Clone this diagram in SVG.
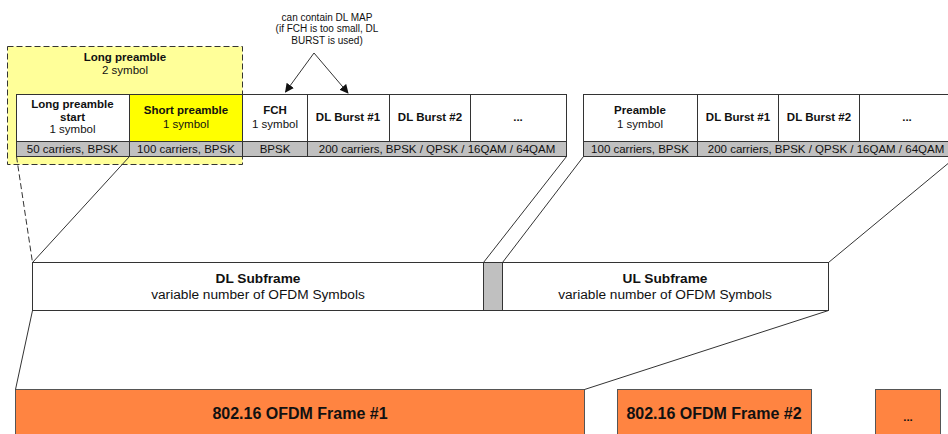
<svg xmlns="http://www.w3.org/2000/svg" width="948" height="434" viewBox="0 0 948 434">
<defs>
<marker id="ah" viewBox="0 0 10 10" refX="9" refY="5" markerWidth="9" markerHeight="9" markerUnits="userSpaceOnUse" orient="auto">
<path d="M0,0 L10,5 L0,10 z" fill="#111"/>
</marker>
<style>
text{font-family:"Liberation Sans",Arial,sans-serif;fill:#111;text-anchor:middle}
.b{font-weight:bold;font-size:11.5px}
.r{font-size:11.5px}
.s{font-size:10px}
.m{font-size:13.7px}
.mb{font-size:13.7px;font-weight:bold}
.f{font-size:16px;font-weight:bold}
.cell{fill:#fff;stroke:#333;stroke-width:1}
.gray{fill:#c0c0c0;stroke:#333;stroke-width:1}
.dash{fill:none;stroke:#333;stroke-width:1;stroke-dasharray:6,3}
.ln{fill:none;stroke:#333;stroke-width:1}
.frame{fill:#ff8441;stroke:#555;stroke-width:1}
</style>
</defs>
<rect width="948" height="434" fill="#fff"/>

<g id="long-preamble">
<rect x="7.5" y="46.5" width="235" height="118" fill="#ffff99" stroke="#333" stroke-dasharray="6,3"/>
<text class="b" x="125" y="61">Long preamble</text>
<text class="r" x="125" y="74">2 symbol</text>
</g>

<g id="dl-row">
<rect class="cell" x="16.5" y="94.5" width="113" height="47" stroke="none"/>
<path class="dash" d="M16.5,156.5 V94.5 H129.5"/>
<text class="b" x="72.5" y="108">Long preamble</text>
<text class="b" x="72.5" y="121">start</text>
<text class="r" x="72.5" y="133">1 symbol</text>
<rect x="129.5" y="94.5" width="113" height="47" fill="#ffff00" stroke="#333"/>
<text class="b" x="186" y="114">Short preamble</text>
<text class="r" x="186" y="128">1 symbol</text>
<rect class="cell" x="242.5" y="94.5" width="65" height="47"/>
<text class="b" x="275" y="114">FCH</text>
<text class="r" x="275" y="128">1 symbol</text>
<rect class="cell" x="307.5" y="94.5" width="82" height="47"/>
<text class="b" x="348" y="121">DL Burst #1</text>
<rect class="cell" x="389.5" y="94.5" width="81" height="47"/>
<text class="b" x="430" y="121">DL Burst #2</text>
<rect class="cell" x="470.5" y="94.5" width="96" height="47"/>
<text class="b" x="518" y="121">...</text>
<rect class="gray" x="16.5" y="141.5" width="113" height="15" stroke="none"/>
<path class="ln" d="M16.5,156.5 H129.5 V141.5 H16.5"/>
<text class="r" x="72.5" y="153">50 carriers, BPSK</text>
<rect class="gray" x="129.5" y="141.5" width="113" height="15"/>
<text class="r" x="186" y="153">100 carriers, BPSK</text>
<rect class="gray" x="242.5" y="141.5" width="65" height="15"/>
<text class="r" x="275" y="153">BPSK</text>
<rect class="gray" x="307.5" y="141.5" width="259" height="15"/>
<text class="r" x="437" y="153">200 carriers, BPSK / QPSK / 16QAM / 64QAM</text>
</g>

<g id="ul-row">
<rect class="cell" x="583.5" y="94.5" width="114" height="47"/>
<text class="b" x="640" y="114">Preamble</text>
<text class="r" x="640" y="128">1 symbol</text>
<rect class="cell" x="697.5" y="94.5" width="81" height="47"/>
<text class="b" x="738" y="121">DL Burst #1</text>
<rect class="cell" x="778.5" y="94.5" width="81" height="47"/>
<text class="b" x="819" y="121">DL Burst #2</text>
<rect class="cell" x="859.5" y="94.5" width="97" height="47"/>
<text class="b" x="907" y="121">...</text>
<rect class="gray" x="583.5" y="141.5" width="114" height="15"/>
<text class="r" x="640" y="153">100 carriers, BPSK</text>
<rect class="gray" x="697.5" y="141.5" width="259" height="15"/>
<text class="r" x="826" y="153">200 carriers, BPSK / QPSK / 16QAM / 64QAM</text>
</g>

<g id="note">
<text class="s" x="327" y="20.5">can contain DL MAP</text>
<text class="s" x="327" y="32">(if FCH is too small, DL</text>
<text class="s" x="327" y="43.5">BURST is used)</text>
</g>

<g id="subframes">
<rect class="cell" x="32.5" y="262.5" width="451" height="48"/>
<text class="mb" x="258" y="283">DL Subframe</text>
<text class="m" x="258" y="299">variable number of OFDM Symbols</text>
<rect class="gray" x="483.5" y="262.5" width="19" height="48"/>
<rect class="cell" x="502.5" y="262.5" width="326" height="48"/>
<text class="mb" x="665" y="283">UL Subframe</text>
<text class="m" x="665" y="299">variable number of OFDM Symbols</text>
</g>

<g id="frames">
<rect class="frame" x="15.5" y="389.5" width="569" height="50"/>
<text class="f" x="300" y="419">802.16 OFDM Frame #1</text>
<rect class="frame" x="617.5" y="389.5" width="194" height="50"/>
<text class="f" x="714" y="419">802.16 OFDM Frame #2</text>
<rect class="frame" x="875.5" y="389.5" width="65" height="50"/>
<text class="b" x="908" y="421">...</text>
</g>

<g id="connectors">
<path class="ln" d="M314,53 L285.5,92" marker-end="url(#ah)"/>
<path class="ln" d="M314,53 L348,93" marker-end="url(#ah)"/>
<path class="dash" d="M16.5,156.5 L32.5,262.5"/>
<path class="ln" d="M129.5,156.5 L32.5,262.5"/>
<path class="ln" d="M566.5,156.5 L483.5,262.5"/>
<path class="ln" d="M583.5,156.5 L502.5,262.5"/>
<path class="ln" d="M956.5,156.5 L828.5,262.5"/>
<path class="ln" d="M32.5,310.5 L15.5,389.5"/>
<path class="ln" d="M828.5,310.5 L584.5,389.5"/>
</g>
</svg>
